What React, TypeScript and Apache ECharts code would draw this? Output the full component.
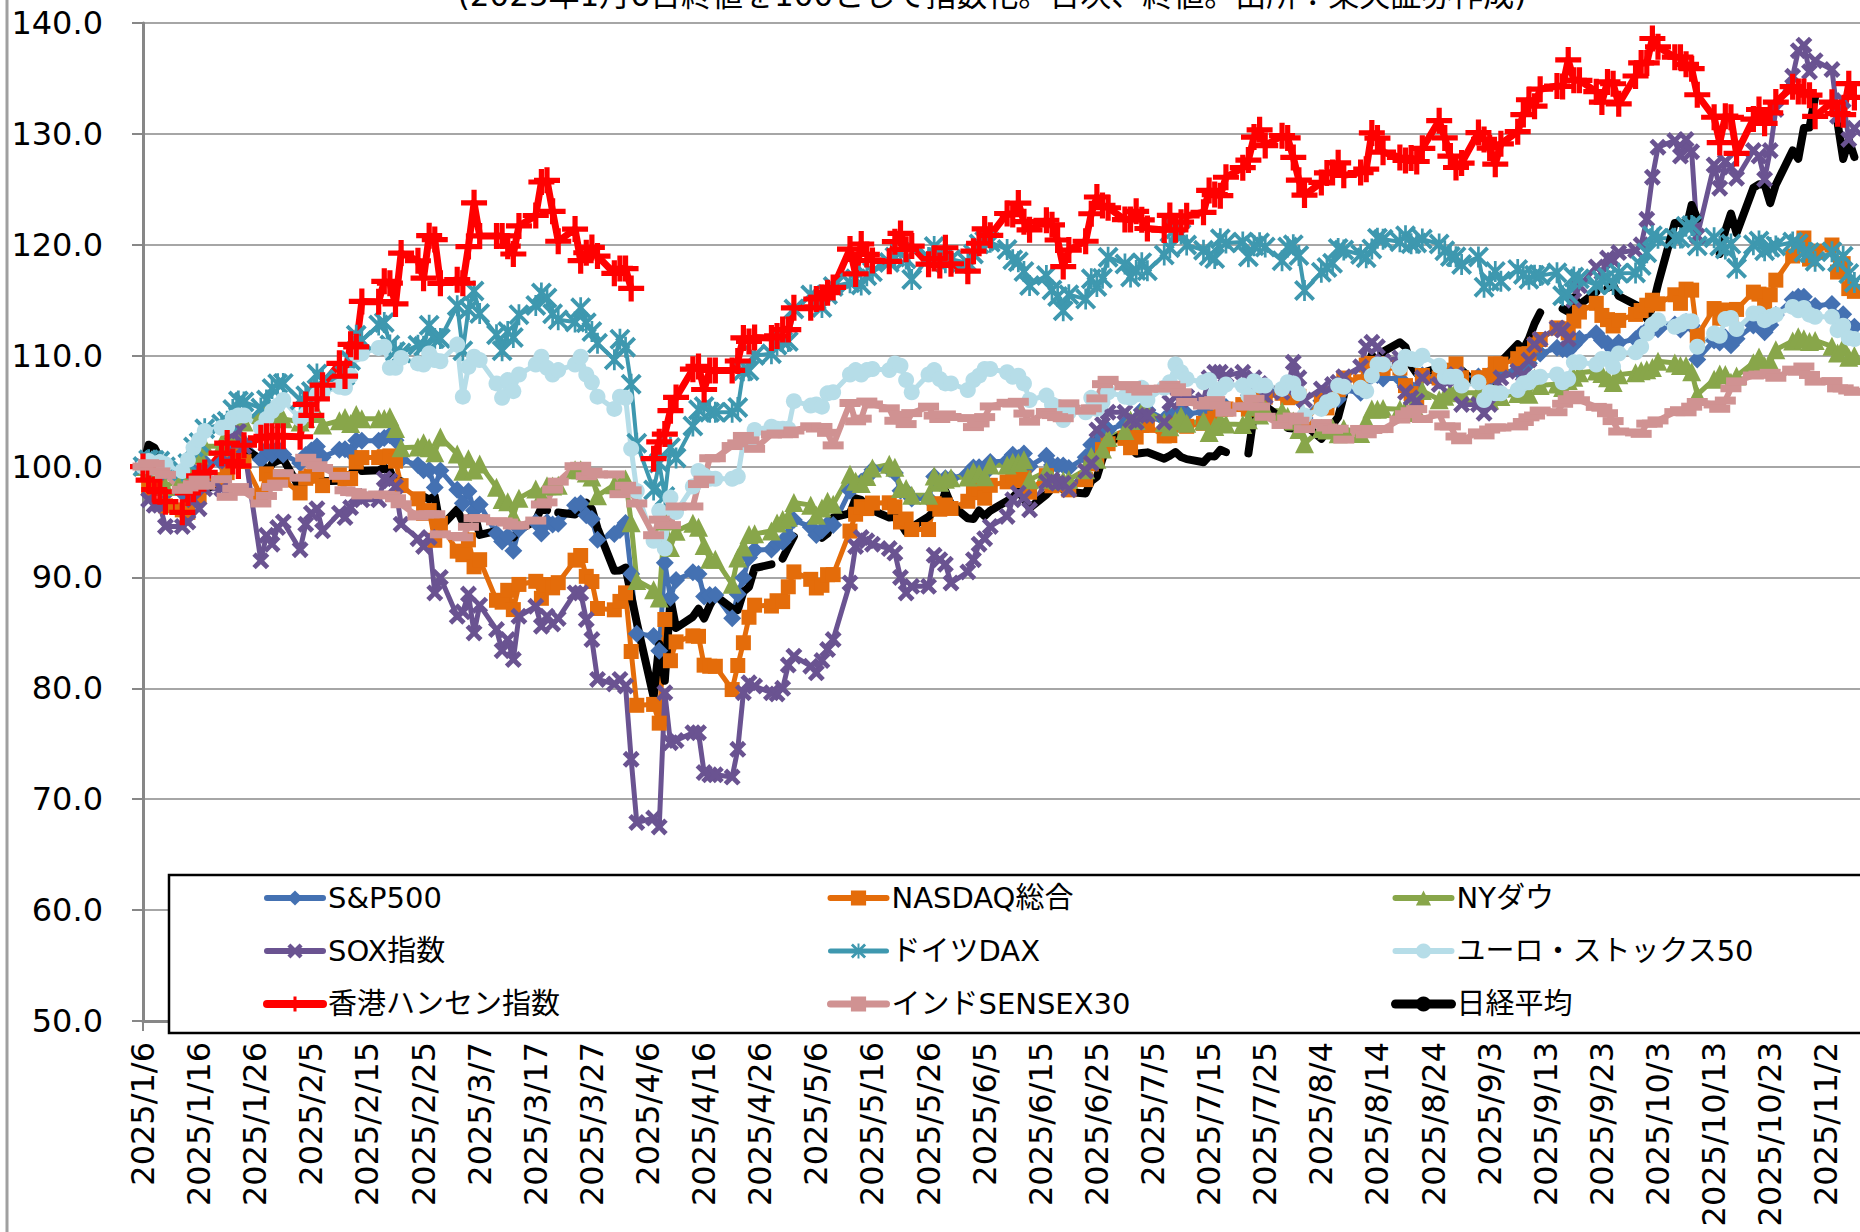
import React, { useEffect, useRef } from "react";
import * as echarts from "echarts";

// ---------- texts ----------
const TITLE = "(2025年1月6日終値を100として指数化。日次、終値。出所：楽天証券作成)";
const FONT = "'DejaVu Sans', 'Noto Sans CJK JP', sans-serif";

// ---------- calendar (weekdays from 2025/1/6, 44 weeks) ----------
const START_Y = 2025;
const START_M = 0; // January
const START_D = 6;
const WEEKS = 44;
const X_MAX_DAYS = 306; // right edge of the visible plot (2025/11/8)

// ---------- series values (index, 2025/1/6 close = 100) — one row per week, Mon..Fri ----------
const SP500 = [
  100.00, 98.89, 99.04, 99.04, 97.52,
  97.67, 97.78, 99.57, 99.36, 100.36,
  100.36, 101.24, 101.86, 102.40, 102.11,
  100.62, 101.54, 101.07, 101.60, 101.09,
  100.32, 101.05, 101.44, 101.81, 100.85,
  101.52, 101.56, 101.28, 102.34, 102.33,
  102.33, 102.58, 102.83, 102.38, 100.63,
  100.13, 99.66, 99.68, 98.10, 99.65,
  97.90, 96.70, 97.78, 96.04, 96.57,
  93.96, 93.25, 93.71, 92.40, 94.37,
  94.97, 93.96, 94.98, 94.77, 94.85,
  96.52, 96.67, 95.60, 95.28, 93.40,
  93.92, 94.27, 94.91, 90.31, 84.92,
  84.72, 83.39, 91.32, 88.16, 89.76,
  90.47, 90.32, 88.29, 88.41, 88.41,
  86.33, 88.49, 89.97, 91.79, 92.47,
  92.53, 93.06, 93.20, 93.79, 95.17,
  94.56, 93.83, 94.24, 94.79, 94.72,
  97.81, 98.51, 98.62, 99.02, 99.72,
  99.80, 99.42, 97.81, 97.77, 97.11,
  97.11, 99.10, 98.55, 98.94, 98.93,
  99.34, 99.92, 99.93, 99.40, 100.42,
  100.51, 101.06, 100.78, 101.17, 100.03,
  100.97, 100.13, 100.09, 100.09, 99.88,
  100.83, 101.96, 101.96, 102.77, 103.31,
  103.84, 103.73, 104.22, 105.09, 105.09,
  104.26, 104.19, 104.82, 105.11, 104.76,
  104.91, 104.49, 104.83, 105.39, 105.38,
  105.53, 105.60, 106.42, 106.49, 106.92,
  106.94, 106.62, 106.49, 106.09, 104.39,
  105.93, 105.42, 106.19, 106.10, 106.93,
  106.66, 107.87, 108.22, 108.25, 107.94,
  107.93, 107.29, 107.03, 106.61, 108.23,
  107.76, 108.21, 108.47, 108.81, 108.11,
  108.11, 107.37, 107.91, 108.81, 108.47,
  108.70, 108.99, 109.32, 110.24, 110.19,
  110.71, 110.57, 110.46, 110.99, 111.53,
  112.02, 111.40, 111.09, 110.53, 111.18,
  111.48, 111.93, 112.31, 112.38, 112.39,
  112.80, 112.37, 113.03, 112.71, 109.66,
  111.37, 111.19, 111.64, 110.94, 111.52,
  112.71, 112.72, 112.12, 112.77, 113.66,
  115.06, 115.32, 115.32, 114.17, 114.47,
  114.67, 113.32, 113.74, 112.47, 112.61,
];

const NASDAQ = [
  100.00, 98.11, 98.06, 98.06, 96.46,
  96.09, 95.87, 98.22, 97.35, 98.82,
  98.82, 99.45, 100.73, 100.95, 100.45,
  97.37, 99.34, 98.83, 99.08, 98.80,
  97.62, 98.94, 99.13, 99.63, 98.28,
  99.24, 98.89, 98.92, 100.41, 100.81,
  100.81, 100.89, 100.96, 100.49, 98.28,
  97.09, 95.78, 96.03, 93.35, 94.88,
  92.37, 92.05, 93.39, 90.96, 91.60,
  87.94, 87.77, 88.84, 87.10, 89.37,
  89.65, 88.12, 89.36, 89.06, 89.53,
  91.56, 91.98, 90.10, 89.63, 87.20,
  87.08, 87.84, 88.61, 83.32, 78.47,
  78.55, 76.86, 86.21, 82.49, 84.19,
  84.73, 84.69, 82.09, 81.99, 81.99,
  79.89, 82.06, 84.11, 86.41, 87.50,
  87.42, 87.90, 87.82, 89.16, 90.50,
  89.83, 89.05, 89.29, 90.25, 90.25,
  94.18, 95.70, 96.38, 96.21, 96.71,
  96.73, 96.36, 95.00, 95.27, 94.32,
  94.32, 96.65, 96.15, 96.53, 96.22,
  96.87, 97.65, 97.96, 97.15, 98.31,
  98.62, 99.24, 98.74, 98.98, 97.69,
  99.18, 98.27, 98.40, 98.40, 97.90,
  98.82, 100.24, 100.55, 101.53, 102.06,
  102.54, 101.70, 102.66, 103.71, 103.71,
  102.76, 102.79, 103.76, 103.86, 103.63,
  103.90, 104.09, 104.36, 105.14, 105.19,
  105.59, 105.17, 105.82, 106.01, 106.26,
  106.61, 106.21, 106.37, 106.33, 103.95,
  105.98, 105.29, 106.57, 106.93, 107.98,
  107.65, 109.15, 109.30, 109.29, 108.85,
  108.88, 107.30, 106.58, 106.22, 108.21,
  107.98, 108.45, 108.69, 109.26, 108.01,
  108.01, 107.12, 108.22, 109.27, 109.24,
  109.73, 110.14, 110.18, 110.97, 111.46,
  112.50, 112.43, 112.06, 113.12, 113.93,
  114.72, 113.63, 113.25, 112.68, 113.18,
  113.72, 114.07, 114.55, 115.00, 114.68,
  115.49, 114.72, 116.00, 115.91, 111.78,
  114.25, 113.37, 114.12, 113.58, 114.17,
  115.73, 115.55, 114.47, 115.49, 116.81,
  118.99, 119.95, 120.61, 118.71, 119.43,
  119.98, 117.54, 118.30, 116.05, 115.80,
];

const DOW = [
  100.00, 99.58, 99.83, 99.83, 98.20,
  99.04, 99.56, 101.21, 101.05, 101.83,
  101.83, 103.09, 103.39, 104.35, 104.02,
  104.70, 105.02, 104.70, 105.09, 104.30,
  104.02, 104.33, 105.07, 104.78, 103.74,
  104.13, 104.42, 103.89, 104.69, 104.31,
  104.31, 104.33, 104.50, 103.44, 101.69,
  101.77, 102.14, 101.70, 101.25, 102.66,
  101.13, 99.57, 100.70, 99.70, 100.22,
  98.14, 97.02, 96.82, 95.57, 97.15,
  97.97, 97.36, 98.26, 98.24, 98.31,
  99.71, 99.72, 99.41, 99.05, 97.37,
  98.35, 98.32, 98.87, 94.94, 89.72,
  88.90, 88.15, 95.09, 92.71, 94.16,
  94.89, 94.52, 92.89, 91.65, 91.65,
  89.38, 91.76, 92.74, 93.88, 93.93,
  94.19, 94.90, 95.23, 95.42, 96.75,
  96.52, 95.60, 96.27, 96.87, 96.59,
  99.31, 98.67, 98.47, 99.10, 99.88,
  100.20, 99.93, 98.02, 98.02, 97.42,
  97.42, 99.15, 98.58, 98.85, 98.98,
  99.06, 99.56, 99.35, 99.09, 100.13,
  100.13, 100.38, 100.37, 100.61, 98.81,
  99.55, 98.85, 98.75, 98.75, 98.83,
  99.71, 100.90, 100.65, 101.59, 102.61,
  103.25, 104.19, 104.16, 104.97, 104.97,
  103.98, 103.59, 104.10, 104.55, 103.90,
  104.10, 103.08, 103.62, 104.16, 103.83,
  103.79, 104.21, 105.39, 104.65, 105.14,
  104.99, 104.51, 104.11, 103.34, 102.06,
  103.43, 103.29, 103.48, 102.96, 103.44,
  102.97, 104.10, 105.19, 105.16, 105.24,
  105.16, 105.19, 105.22, 104.87, 106.85,
  106.03, 106.35, 106.69, 106.86, 106.65,
  106.65, 106.06, 106.01, 106.83, 106.31,
  106.58, 107.04, 106.52, 107.97, 107.32,
  107.44, 107.14, 107.76, 108.05, 108.45,
  108.61, 108.40, 108.00, 107.59, 108.29,
  108.45, 108.64, 108.74, 108.93, 109.49,
  109.34, 109.12, 109.12, 108.55, 106.49,
  107.87, 108.35, 108.31, 107.60, 108.16,
  109.37, 109.88, 109.09, 109.43, 110.54,
  111.33, 111.71, 111.53, 111.28, 111.37,
  110.84, 110.25, 110.78, 109.85, 110.02,
];

const SOX = [
  100.0, 97.0, 96.5, 96.5, 94.6,
  94.6, 95.0, 97.0, 96.2, 98.0,
  98.0, 100.5, 103.0, 103.2, 101.8,
  91.5, 93.8, 93.0, 94.5, 95.0,
  92.5, 94.8, 95.8, 96.2, 94.2,
  95.8, 95.4, 96.3, 97.3, 97.0,
  97.0, 98.9, 98.7, 98.2, 94.8,
  93.5, 92.8, 93.6, 88.6, 90.0,
  86.5, 86.9, 88.5, 85.0, 87.5,
  85.3, 83.4, 84.4, 82.6, 86.5,
  87.4, 85.6, 86.5, 85.8, 86.3,
  88.6, 88.6, 86.2, 84.4, 80.8,
  80.4, 80.8, 80.2, 73.6, 67.9,
  68.3, 67.5, 79.6, 75.1, 75.3,
  76.0, 76.0, 72.4, 72.2, 72.2,
  72.0, 74.5, 79.6, 80.5, 80.2,
  79.6, 79.5, 80.0, 82.1, 82.9,
  82.0, 81.4, 82.5, 83.5, 84.4,
  89.5, 92.8, 93.6, 93.3, 93.0,
  92.6, 92.2, 90.0, 88.6, 89.2,
  89.2, 92.0, 91.6, 91.2, 89.5,
  90.5, 91.6, 93.0, 93.5, 94.6,
  95.5, 97.0, 97.6, 97.2, 96.1,
  98.6, 98.8, 98.5, 98.5, 97.9,
  99.6, 100.3, 103.3, 103.8, 104.9,
  104.9, 104.2, 104.0, 104.6, 104.6,
  104.0, 105.8, 106.3, 106.0, 106.3,
  106.0, 108.0, 108.5, 108.5, 108.2,
  108.5, 106.9, 108.0, 107.5, 106.3,
  106.7, 107.0, 109.4, 108.0, 106.0,
  107.0, 106.6, 107.4, 107.6, 108.1,
  109.0, 110.8, 111.2, 110.8, 109.5,
  109.8, 106.7, 106.2, 105.9, 108.0,
  107.4, 107.8, 107.9, 108.3, 105.6,
  105.6, 104.8, 105.6, 106.8, 108.0,
  108.6, 108.3, 109.6, 111.0, 111.5,
  112.5, 112.3, 111.5, 115.0, 116.3,
  118.0, 117.5, 118.8, 118.6, 119.3,
  119.5, 120.0, 122.3, 126.1, 128.8,
  129.4, 128.0, 129.5, 128.4, 120.8,
  127.2, 125.1, 127.5, 127.0, 126.0,
  128.5, 128.0, 125.9, 128.5, 132.2,
  135.2, 137.5, 138.0, 135.6, 136.6,
  135.8, 131.6, 133.0, 129.5, 130.5,
];

const DAX = [
  100.00, 100.62, 100.56, 100.50, 99.99,
  99.59, 100.27, 101.77, 102.17, 103.40,
  103.83, 104.09, 105.14, 105.91, 105.83,
  105.27, 106.01, 107.03, 107.47, 107.50,
  106.00, 106.38, 106.77, 108.34, 107.77,
  107.84, 108.24, 109.56, 111.85, 111.36,
  112.77, 113.00, 110.97, 110.38, 110.25,
  110.93, 110.85, 112.75, 111.55, 111.55,
  114.50, 110.44, 114.17, 115.84, 113.81,
  111.89, 110.45, 112.17, 111.63, 113.70,
  114.53, 115.65, 115.20, 113.77, 113.23,
  113.04, 114.31, 112.97, 112.18, 111.11,
  109.63, 111.49, 110.76, 107.43, 102.10,
  97.89, 100.32, 97.30, 101.72, 100.78,
  103.65, 105.13, 105.42, 104.90, 104.90,
  104.90, 105.33, 108.63, 108.65, 110.02,
  110.17, 110.93, 111.28, 111.28, 114.20,
  115.48, 115.01, 114.34, 115.52, 116.24,
  116.57, 116.93, 116.38, 117.21, 117.57,
  118.40, 118.90, 119.32, 118.71, 116.88,
  118.85, 119.84, 118.91, 118.39, 118.70,
  118.37, 119.17, 120.08, 120.32, 120.22,
  119.58, 118.65, 118.46, 117.59, 116.33,
  117.23, 115.92, 115.34, 114.05, 115.50,
  115.10, 116.94, 116.24, 116.98, 118.88,
  118.27, 117.10, 117.68, 118.39, 117.66,
  119.08, 119.74, 121.43, 120.97, 119.98,
  119.51, 119.02, 118.76, 120.55, 120.15,
  120.24, 118.92, 119.91, 120.18, 119.79,
  118.57, 119.79, 120.01, 119.04, 115.88,
  117.52, 117.96, 118.34, 119.67, 119.52,
  119.12, 118.84, 119.63, 120.58, 120.49,
  120.27, 120.81, 120.09, 120.17, 120.51,
  120.07, 119.47, 118.95, 118.91, 118.23,
  118.90, 116.18, 116.71, 117.58, 116.72,
  117.76, 117.32, 116.90, 117.25, 117.22,
  117.47, 115.40, 115.55, 117.10, 116.93,
  116.38, 116.79, 117.07, 116.41, 117.43,
  117.46, 118.13, 119.28, 120.81, 120.59,
  120.59, 120.62, 121.67, 121.74, 119.91,
  120.64, 119.89, 119.61, 120.06, 117.88,
  120.00, 120.35, 119.47, 119.75, 119.90,
  120.24, 120.09, 119.33, 119.31, 118.51,
  119.37, 118.47, 118.96, 117.40, 116.59,
];

const EURO50 = [
  100.0, 100.5, 99.9, 100.4, 100.2,
  99.6, 100.6, 101.7, 102.4, 103.2,
  103.5, 103.6, 104.4, 104.6, 104.6,
  103.5, 104.3, 105.0, 105.5, 106.0,
  104.3, 104.7, 105.1, 106.5, 106.7,
  107.2, 107.1, 108.2, 110.1, 110.2,
  110.7, 110.8, 108.9, 108.9, 109.8,
  109.3, 109.2, 110.2, 109.6, 109.5,
  111.0, 106.3, 109.0, 109.9, 109.6,
  107.5, 106.2, 107.8, 106.8, 108.3,
  109.2, 109.9, 108.9, 108.3, 108.7,
  109.2, 109.9, 108.3, 107.6, 106.3,
  105.2, 106.3, 106.2, 101.6, 97.8,
  93.3, 96.0, 92.6, 97.2, 95.9,
  98.2, 99.6, 99.2, 98.9, 98.9,
  98.9, 99.1, 102.2, 102.2, 103.3,
  103.6, 103.4, 103.4, 103.4, 105.9,
  105.5, 105.6, 105.4, 106.6, 106.7,
  108.3, 108.7, 108.3, 108.7, 108.8,
  108.7, 109.3, 109.1, 107.8, 106.7,
  108.3, 108.7, 107.9, 107.5, 107.5,
  106.9, 107.8, 108.2, 108.8, 108.8,
  108.5, 108.1, 108.2, 107.5, 106.0,
  106.4, 105.6, 105.4, 104.2, 104.9,
  104.9, 106.2, 105.2, 105.8, 106.7,
  106.3, 106.2, 106.5, 107.1, 106.0,
  107.1, 107.6, 109.2, 108.5, 107.9,
  107.6, 107.8, 106.5, 107.0, 107.4,
  107.3, 106.4, 107.7, 107.3, 107.3,
  107.0, 107.6, 107.5, 106.6, 104.6,
  105.2, 105.8, 106.0, 107.3, 107.2,
  107.1, 106.8, 108.2, 109.2, 109.2,
  108.9, 109.9, 109.7, 109.6, 110.0,
  109.1, 108.1, 108.1, 108.1, 107.3,
  107.6, 106.0, 106.7, 106.6, 106.6,
  106.9, 107.5, 107.6, 108.0, 108.1,
  108.3, 107.6, 107.9, 109.4, 109.4,
  109.2, 109.7, 109.7, 109.0, 110.2,
  110.3, 110.8, 112.0, 112.8, 113.2,
  112.6, 112.8, 113.1, 113.1, 110.8,
  112.0, 111.8, 113.3, 113.4, 112.4,
  113.8, 113.8, 113.2, 113.5, 113.7,
  114.4, 114.1, 114.3, 113.7, 113.5,
  113.5, 112.3, 112.7, 111.6, 111.5,
];

const HANGSENG = [
  100.00, 98.78, 97.93, 97.73, 96.83,
  95.87, 97.62, 97.96, 99.16, 99.47,
  101.21, 102.12, 100.46, 100.06, 101.92,
  102.59, 102.73, 102.73, 102.73, 102.73,
  102.69, 105.60, 104.62, 106.11, 107.34,
  109.31, 108.16, 111.02, 110.80, 114.89,
  114.87, 116.70, 116.54, 114.67, 119.25,
  118.56, 116.99, 120.82, 120.47, 116.52,
  116.85, 116.53, 119.84, 123.78, 120.80,
  120.80, 120.80, 119.87, 119.17, 121.70,
  122.64, 125.66, 125.81, 123.02, 120.32,
  121.42, 118.57, 119.28, 119.76, 118.98,
  117.43, 117.87, 117.85, 116.06, null,
  100.71, 102.23, 102.93, 105.04, 106.23,
  108.78, 109.03, 106.95, 108.67, 108.67,
  108.67, 109.52, 111.60, 111.28, 111.64,
  111.60, 111.78, 112.35, 112.35, 114.31,
  114.31, 115.11, 115.25, 115.68, 116.15,
  119.61, 117.37, 120.07, 119.13, 118.58,
  118.51, 120.28, 121.02, 119.59, 119.88,
  118.25, 118.76, 118.13, 119.73, 118.29,
  117.62, 119.42, 120.14, 121.43, 120.85,
  122.82, 122.72, 123.76, 122.08, 121.35,
  122.21, 121.80, 120.43, 118.03, 119.52,
  120.32, 122.80, 124.31, 123.55, 123.34,
  122.27, 122.27, 123.02, 122.25, 121.47,
  121.33, 122.65, 121.35, 122.04, 122.61,
  122.93, 124.90, 124.53, 124.43, 126.09,
  126.95, 127.64, 129.71, 130.37, 128.95,
  129.84, 129.64, 127.88, 125.83, 124.48,
  125.62, 126.48, 126.52, 127.39, 126.26,
  126.51, 126.82, 130.09, 129.62, 128.35,
  127.88, 127.60, 127.82, 127.51, 128.70,
  131.19, 129.64, 128.00, 126.97, 127.37,
  130.12, 129.50, 128.72, 127.27, 129.10,
  130.20, 131.74, 133.08, 132.50, 134.03,
  134.32, 134.28, 136.67, 134.83, 134.83,
  133.81, 132.87, 134.69, 134.52, 132.71,
  135.22, 136.40, 136.40, 138.60, 137.85,
  136.92, 136.92, 136.27, 135.88, 133.53,
  131.50, 129.22, 131.60, 131.49, 128.24,
  131.34, 132.20, 130.95, 131.89, 132.87,
  134.26, 133.82, 133.82, 133.49, 131.58,
  132.86, 131.82, 131.73, 134.53, 133.29,
];

const SENSEX = [
  100.00, 100.30, 100.24, 99.56, 99.25,
  97.90, 98.12, 98.41, 98.82, 98.27,
  98.86, 97.27, 98.00, 98.15, 97.72,
  96.67, 97.35, 98.16, 98.46, 99.40,
  99.00, 100.79, 100.39, 100.12, 99.87,
  99.16, 97.86, 97.70, 97.66, 97.40,
  97.48, 97.44, 97.40, 97.14, 96.60,
  95.50, 95.69, 95.69, 95.70, 93.89,
  93.74, 93.62, 94.57, 95.35, 95.34,
  95.06, 95.05, 94.95, 94.69, 94.69,
  95.13, 96.58, 96.77, 97.93, 98.64,
  100.03, 100.07, 99.13, 99.54, 99.29,
  99.29, 97.51, 98.27, 97.86, 96.67,
  93.81, 95.21, 94.72, 94.72, 96.40,
  96.40, 98.42, 98.82, 100.75, 100.75,
  101.85, 102.09, 102.76, 102.36, 101.60,
  102.89, 102.98, 102.92, 102.92, 103.25,
  103.63, 103.43, 103.57, 103.04, 101.91,
  105.73, 104.08, 104.32, 105.86, 105.60,
  105.25, 104.13, 104.66, 103.83, 104.82,
  105.40, 104.60, 104.29, 104.70, 104.47,
  104.37, 103.56, 103.89, 104.46, 105.42,
  105.75, 105.68, 105.84, 104.78, 104.05,
  104.92, 104.64, 104.46, 104.36, 105.70,
  105.04, 105.25, 106.15, 107.43, 107.82,
  107.24, 107.35, 106.98, 106.76, 107.01,
  107.03, 107.37, 107.15, 106.70, 105.82,
  105.50, 105.91, 105.99, 105.51, 104.86,
  105.43, 105.42, 106.11, 105.41, 104.49,
  103.75, 104.33, 104.51, 104.13, 103.38,
  103.92, 103.52, 103.31, 103.41, 102.43,
  103.39, 102.91, 103.30, 103.38, 103.38,
  104.24, 104.72, 104.99, 105.18, 104.29,
  104.71, 103.62, 103.62, 102.71, 102.37,
  103.08, 102.81, 103.34, 103.53, 103.52,
  103.62, 104.02, 104.44, 104.60, 105.05,
  104.90, 105.66, 106.07, 106.48, 105.98,
  105.38, 105.31, 104.81, 104.10, 103.16,
  103.08, 102.95, 103.87, 103.87, 104.16,
  104.91, 105.08, 104.89, 105.40, 105.82,
  105.60, 105.21, 105.95, 107.06, 107.68,
  108.21, 108.29, 108.29, 108.45, 108.01,
  108.74, 108.55, 109.02, 108.26, 107.66,
  107.71, 107.05, 107.05, 106.86, 106.74,
];

const NIKKEI = [
  100.00, 101.97, 101.72, 100.76, 99.70,
  null, 97.88, 97.81, 98.13, 97.82,
  98.97, 99.29, 100.86, 101.66, 101.59,
  100.66, 99.26, 100.27, 100.53, 100.67,
  98.00, 98.71, 98.79, 99.39, 98.68,
  98.71, null, 99.13, 100.39, 99.60,
  99.66, 99.91, 99.64, 98.40, 98.65,
  null, 97.28, 97.04, 97.33, 94.53,
  96.13, 94.97, 95.20, 95.92, 93.84,
  94.20, 93.60, 93.67, 93.60, 94.27,
  95.14, 96.28, 96.04, null, 95.85,
  95.68, 96.12, 96.74, 96.16, 94.44,
  90.61, 90.63, 90.89, 88.37, 85.94,
  79.21, 83.99, 80.68, 88.05, 85.44,
  86.45, 87.18, 86.30, 87.46, 88.36,
  87.21, 87.06, 88.71, 89.14, 90.84,
  91.18, null, 91.70, 92.74, 93.70,
  null, null, 93.57, 93.95, 95.41,
  95.77, 97.14, 97.00, 96.05, 96.05,
  95.40, 95.48, 94.89, 94.09, 94.54,
  95.48, 95.97, 95.97, 97.78, 96.59,
  95.33, 95.27, 96.03, 95.54, 96.02,
  96.90, 97.21, 97.75, 97.11, 96.25,
  97.47, 98.04, 98.93, 97.92, 97.70,
  97.58, 98.69, 99.07, 100.71, 102.15,
  103.00, 101.73, 101.16, 101.22, 101.28,
  100.71, 100.97, 101.31, 100.86, 100.67,
  100.39, 100.94, 100.91, 101.51, 101.30,
  null, 101.19, 104.74, 106.41, 105.47,
  104.30, 103.48, 103.43, 104.48, 103.80,
  102.50, 103.16, 103.78, 104.46, 106.39,
  null, 108.68, 110.09, 108.50, 110.36,
  111.21, 110.78, 109.11, 108.40, 108.46,
  108.90, 107.85, 108.17, 108.96, 108.68,
  107.33, 107.64, 106.69, 108.33, 109.44,
  111.03, 110.56, 111.53, 112.89, 113.89,
  null, 114.23, 113.95, 115.25, 114.60,
  115.74, null, 116.09, 116.40, 115.38,
  114.59, 114.31, 113.34, 114.32, 116.44,
  121.97, 121.99, 121.44, 123.59, 122.34,
  null, 119.18, 121.28, 122.82, 121.05,
  125.13, 125.46, 125.44, 123.75, 125.42,
  128.51, 127.76, 130.53, 130.58, 133.34,
  null, 131.01, 127.74, 129.45, 127.91,
];

// ---------- marker shapes ----------
const SYM_X = "path://M0,4L4,0L10,6L16,0L20,4L14,10L20,16L16,20L10,14L4,20L0,16L6,10Z";
const SYM_STAR =
  "path://M0,2.6L2.6,0L10,7.4L17.4,0L20,2.6L12.6,10L20,17.4L17.4,20L10,12.6L2.6,20L0,17.4L7.4,10Z M8.7,0L11.3,0L11.3,20L8.7,20Z";
const SYM_PLUS = "path://M8,0L12,0L12,8L20,8L20,12L12,12L12,20L8,20L8,12L0,12L0,8L8,8Z";

const SERIES_DEFS = [
  { name: "S&P500", data: SP500, color: "#4471B2", symbol: "diamond", size: 18, width: 5 },
  { name: "NASDAQ総合", data: NASDAQ, color: "#E46C0A", symbol: "rect", size: 15, width: 5 },
  { name: "NYダウ", data: DOW, color: "#88A64A", symbol: "triangle", size: 19, width: 5 },
  { name: "SOX指数", data: SOX, color: "#6A5391", symbol: SYM_X, size: 17, width: 5 },
  { name: "ドイツDAX", data: DAX, color: "#3E98AF", symbol: SYM_STAR, size: 21, width: 4 },
  { name: "ユーロ・ストックス50", data: EURO50, color: "#B6DDE8", symbol: "circle", size: 16, width: 5 },
  { name: "香港ハンセン指数", data: HANGSENG, color: "#FF0000", symbol: SYM_PLUS, size: 26, width: 7 },
  { name: "インドSENSEX30", data: SENSEX, color: "#D09292", symbol: "rect", size: [21, 8], width: 6 },
  { name: "日経平均", data: NIKKEI, color: "#000000", symbol: "none", size: 0, width: 8 },
];

const LEGEND_COLUMNS = [
  ["S&P500", "SOX指数", "香港ハンセン指数"],
  ["NASDAQ総合", "ドイツDAX", "インドSENSEX30"],
  ["NYダウ", "ユーロ・ストックス50", "日経平均"],
];

function tradingDays(): number[] {
  const out: number[] = [];
  for (let w = 0; w < WEEKS; w++) for (let k = 0; k < 5; k++) out.push(w * 7 + k);
  return out;
}

function dayLabel(v: number): string {
  const d = new Date(START_Y, START_M, START_D + Math.round(v));
  return `${d.getFullYear()}/${d.getMonth() + 1}/${d.getDate()}`;
}

export default function App() {
  const ref = useRef<HTMLDivElement>(null);

  useEffect(() => {
    document.body.style.margin = "0";
    document.body.style.overflow = "hidden";
    if (!ref.current) return;
    const chart = echarts.init(ref.current, undefined, { renderer: "svg" });
    const days = tradingDays();

    const series = SERIES_DEFS.map((s) => ({
      type: "line",
      name: s.name,
      data: days.map((d, i) => [d, s.data[i] == null ? "-" : s.data[i]]),
      symbol: s.symbol,
      symbolSize: s.size,
      showSymbol: s.symbol !== "none",
      connectNulls: false,
      lineStyle: { color: s.color, width: s.width, cap: "round", join: "round" },
      itemStyle: { color: s.color, borderWidth: 0 },
      emphasis: { disabled: true },
      silent: true,
      animation: false,
    }));

    const widthOf = (name: string) => {
      const s = SERIES_DEFS.find((d) => d.name === name);
      return s ? s.width + 1 : 6;
    };

    const legendCommon = {
      orient: "vertical",
      top: 883,
      padding: 0,
      itemWidth: 56,
      itemHeight: 19,
      itemGap: 23,
      selectedMode: false,
      z: 60,
      textStyle: { fontSize: 29, lineHeight: 30, color: "#000", fontFamily: FONT },
    };
    const legendLefts = [263, 827, 1391];

    chart.setOption({
      animation: false,
      backgroundColor: "#ffffff",
      grid: { left: 143, right: 0, top: 23, bottom: 211, containLabel: false, outerBoundsMode: "none" },
      xAxis: {
        type: "value",
        min: 0,
        max: X_MAX_DAYS,
        interval: 10,
        splitLine: { show: false },
        axisLine: { show: true, lineStyle: { color: "#878787", width: 3 } },
        axisTick: { show: true, length: 10, lineStyle: { color: "#878787", width: 2 } },
        axisLabel: {
          rotate: 90,
          margin: 21,
          fontSize: 32,
          color: "#000",
          fontFamily: FONT,
          showMaxLabel: false,
          formatter: (v: number) => dayLabel(v),
        },
      },
      yAxis: {
        type: "value",
        min: 50,
        max: 140,
        interval: 10,
        axisLine: { show: true, lineStyle: { color: "#878787", width: 3 } },
        axisTick: { show: true, length: 11, lineStyle: { color: "#878787", width: 2 } },
        axisLabel: {
          margin: 40,
          fontSize: 32,
          color: "#000",
          fontFamily: FONT,
          formatter: (v: number) => v.toFixed(1),
        },
        splitLine: { show: true, lineStyle: { color: "#A6A6A6", width: 2 } },
      },
      legend: LEGEND_COLUMNS.map((names, i) => ({
        ...legendCommon,
        left: legendLefts[i],
        data: names.map((n) => ({ name: n, lineStyle: { width: widthOf(n) } })),
      })),
      graphic: [
        {
          type: "line",
          z: 40,
          shape: { x1: 7, y1: 0, x2: 7, y2: 1232 },
          style: { stroke: "#A0A0A0", lineWidth: 3 },
          silent: true,
        },
        {
          type: "rect",
          z: 50,
          shape: { x: 169, y: 875, width: 1760, height: 158 },
          style: { fill: "#ffffff", stroke: "#000000", lineWidth: 2.5 },
          silent: true,
        },
        {
          type: "text",
          z: 50,
          x: 992,
          y: -5,
          style: {
            text: TITLE,
            fontSize: 31,
            fontFamily: FONT,
            fill: "#000",
            align: "center",
            verticalAlign: "middle",
            textAlign: "center",
            textVerticalAlign: "middle",
          },
          silent: true,
        },
      ],
      series,
    });

    return () => chart.dispose();
  }, []);

  return (
    <div
      ref={ref}
      style={{ position: "absolute", left: 0, top: 0, width: 1860, height: 1232, background: "#fff" }}
    />
  );
}
